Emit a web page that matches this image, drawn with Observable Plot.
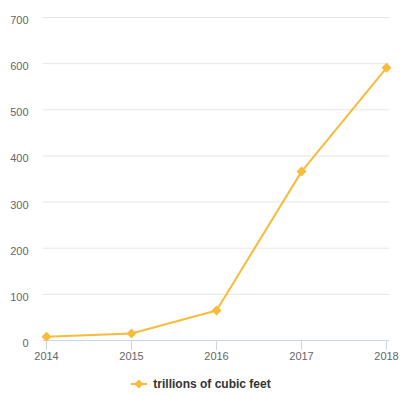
<!DOCTYPE html>
<html>
<head>
<meta charset="utf-8">
<script src="https://cdn.jsdelivr.net/npm/d3@7"></script>
<script src="https://cdn.jsdelivr.net/npm/@observablehq/plot@0.6"></script>
<style>
  html, body { margin: 0; padding: 0; background: #fff; }
  body { width: 402px; height: 396px; overflow: hidden; font-family: "Liberation Sans", Arial, Helvetica, sans-serif; }
  #legend { height: 30px; display: flex; justify-content: center; align-items: center; font-size: 12px; font-weight: bold; color: #333; margin-top: 3px; }
  #legend svg { margin-right: 6px; }
</style>
</head>
<body>
<div id="chart"></div>
<div id="legend"></div>
<script>
const years = [2014, 2015, 2016, 2017, 2018];
const values = [8, 15, 65, 366, 591];
const yTicks = [0, 100, 200, 300, 400, 500, 600, 700];
const seriesName = "trillions of cubic feet";
const color = "#f8bb3a";

const data = years.map((year, i) => ({year, value: values[i]}));

const chart = Plot.plot({
  width: 402,
  height: 366,
  marginTop: 17,
  marginBottom: 26,
  marginLeft: 43,
  marginRight: 13,
  style: {fontFamily: '"Liberation Sans", Arial, Helvetica, sans-serif', fontSize: "11px", color: "#666", background: "#fff"},
  x: {domain: [2014, 2018], insetLeft: 3, insetRight: 3},
  y: {domain: [0, 700]},
  marks: [
    Plot.gridY(yTicks, {stroke: "#e6e6e6", strokeOpacity: 1}),
    Plot.ruleY([0], {stroke: "#ccd6eb", strokeOpacity: 1}),
    Plot.axisY(yTicks, {tickSize: 0, tickPadding: 15, label: null, fill: "#666", dy: 3, fontSize: 11}),
    Plot.axisX(years, {tickSize: 10, tickPadding: 2, label: null, tickFormat: d => String(d), stroke: "#ccd6eb", fill: "#666", fontSize: 11}),
    Plot.line(data, {x: "year", y: "value", stroke: color, strokeWidth: 2}),
    Plot.dot(data, {x: "year", y: "value", symbol: "diamond2", r: 4.5, fill: color, stroke: "none"})
  ]
});
document.getElementById("chart").appendChild(chart);

const legend = document.getElementById("legend");
const ns = "http://www.w3.org/2000/svg";
const sym = document.createElementNS(ns, "svg");
sym.setAttribute("width", 16);
sym.setAttribute("height", 12);
sym.innerHTML = `<line x1="0" x2="16" y1="6" y2="6" stroke="${color}" stroke-width="2"/>` +
  `<path d="M8,1.5L12.5,6L8,10.5L3.5,6Z" fill="${color}"/>`;
legend.appendChild(sym);
const label = document.createElement("span");
label.textContent = seriesName;
legend.appendChild(label);
</script>
</body>
</html>
